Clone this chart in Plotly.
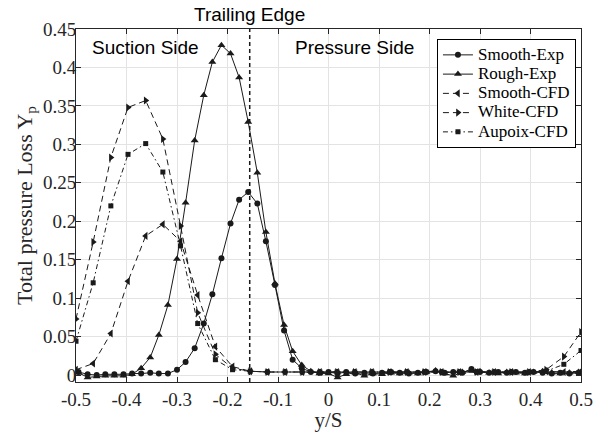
import plotly.graph_objects as go

# Wake traverse positions (y/S) for the measured profiles
exp_y_s = [
    -0.495, -0.477, -0.459, -0.442, -0.424, -0.406, -0.389, -0.371, -0.353, -0.336,
    -0.318, -0.300, -0.283, -0.265, -0.247, -0.230, -0.212, -0.194, -0.177, -0.159,
    -0.141, -0.124, -0.106, -0.088, -0.071, -0.053, -0.035, -0.018, 0.000, 0.018,
    0.035, 0.053, 0.071, 0.088, 0.106, 0.124, 0.141, 0.159, 0.177, 0.194,
    0.212, 0.230, 0.247, 0.265, 0.283, 0.300, 0.318, 0.336, 0.353, 0.371,
    0.389, 0.406, 0.424, 0.442, 0.459, 0.477, 0.495,
]

smooth_exp = [
    0.004, 0.001, 0.000, 0.001, 0.001, 0.001, 0.002, 0.002, 0.003, 0.002,
    0.002, 0.007, 0.017, 0.035, 0.067, 0.105, 0.152, 0.197, 0.228, 0.238,
    0.223, 0.174, 0.117, 0.058, 0.020, 0.009, 0.004, 0.003, 0.004, 0.002,
    0.004, 0.002, 0.003, 0.002, 0.003, 0.004, 0.003, 0.002, 0.003, 0.004,
    0.005, 0.003, 0.004, 0.003, 0.008, 0.004, 0.003, 0.004, 0.003, 0.004,
    0.003, 0.004, 0.003, 0.002, 0.003, 0.002, 0.003,
]

rough_exp = [
    0.003, -0.003, -0.002, -0.001, -0.001, -0.001, 0.001, 0.009, 0.023, 0.052,
    0.091, 0.151, 0.224, 0.305, 0.364, 0.407, 0.429, 0.418, 0.387, 0.329,
    0.263, 0.186, 0.119, 0.065, 0.031, 0.013, 0.005, 0.002, 0.002, -0.003,
    0.001, 0.003, -0.001, 0.002, 0.001, 0.003, 0.002, 0.003, 0.002, 0.004,
    0.006, 0.002, -0.001, 0.004, 0.006, 0.005, 0.003, 0.002, 0.004, 0.003,
    0.002, 0.004, 0.005, 0.003, 0.002, 0.003, 0.004,
]

# Pitchwise positions of the CFD wake profiles
cfd_y_s = [
    -0.500, -0.466, -0.431, -0.397, -0.362, -0.328, -0.293, -0.259, -0.224, -0.190,
    -0.155, -0.121, -0.086, -0.052, -0.017, 0.017, 0.052, 0.086, 0.121, 0.155,
    0.190, 0.224, 0.259, 0.293, 0.328, 0.362, 0.397, 0.431, 0.466, 0.500,
]

smooth_cfd = [
    0.007, 0.015, 0.054, 0.122, 0.181, 0.196, 0.174, 0.104, 0.037, 0.011,
    0.005, 0.004, 0.004, 0.004, 0.004, 0.004, 0.004, 0.004, 0.004, 0.004,
    0.004, 0.004, 0.004, 0.004, 0.004, 0.004, 0.004, 0.005, 0.004, 0.005,
]

white_cfd = [
    0.073, 0.173, 0.283, 0.348, 0.357, 0.307, 0.194, 0.081, 0.027, 0.009,
    0.005, 0.004, 0.004, 0.004, 0.004, 0.004, 0.004, 0.004, 0.004, 0.004,
    0.004, 0.004, 0.004, 0.004, 0.004, 0.004, 0.004, 0.007, 0.024, 0.056,
]

aupoix_cfd = [
    0.044, 0.120, 0.220, 0.287, 0.301, 0.264, 0.168, 0.067, 0.020, 0.007,
    0.005, 0.004, 0.004, 0.004, 0.004, 0.004, 0.004, 0.004, 0.004, 0.004,
    0.004, 0.004, 0.004, 0.004, 0.004, 0.004, 0.004, 0.005, 0.014, 0.032,
]

trailing_edge = -0.156

x_ticks = [-0.5, -0.4, -0.3, -0.2, -0.1, 0, 0.1, 0.2, 0.3, 0.4, 0.5]
x_tick_labels = ["-0.5", "-0.4", "-0.3", "-0.2", "-0.1", "0", "0.1", "0.2", "0.3", "0.4", "0.5"]
y_ticks = [0, 0.05, 0.1, 0.15, 0.2, 0.25, 0.3, 0.35, 0.4, 0.45]
y_tick_labels = ["0", "0.05", "0.1", "0.15", "0.2", "0.25", "0.3", "0.35", "0.4", "0.45"]

SERIF = "Liberation Serif, Times New Roman, serif"
SANS = "Liberation Sans, Arial, sans-serif"
INK = "#1a1a1a"

series = [
    ("Smooth-Exp", exp_y_s, smooth_exp, "solid", "circle", 6),
    ("Rough-Exp", exp_y_s, rough_exp, "solid", "triangle-up", 7),
    ("Smooth-CFD", cfd_y_s, smooth_cfd, "6px,4px", "triangle-left", 7),
    ("White-CFD", cfd_y_s, white_cfd, "6px,4px", "triangle-right", 7),
    ("Aupoix-CFD", cfd_y_s, aupoix_cfd, "5px,3px,1.5px,3px", "square", 5),
]

fig = go.Figure()
for name, xs, ys, dash, symbol, size in series:
    fig.add_trace(go.Scatter(
        x=xs, y=ys, mode="lines+markers",
        # compact legend rows: row height follows the legend font, the label uses a larger span
        name=f'<span style="font-size:17px">{name}</span>',
        line=dict(color=INK, width=1, dash=dash),
        marker=dict(symbol=symbol, size=size, color=INK),
    ))

fig.add_vline(x=trailing_edge, line=dict(color=INK, width=1.5, dash="4px,3px"))

fig.add_annotation(x=trailing_edge, y=1.042, xref="x", yref="paper", text="Trailing Edge",
                   showarrow=False, font=dict(family=SANS, size=19, color="#000"),
                   xanchor="center", yanchor="middle")
fig.add_annotation(x=-0.363, y=0.426, text="Suction Side", showarrow=False,
                   font=dict(family=SANS, size=19, color="#000"), xanchor="center", yanchor="middle")
fig.add_annotation(x=0.052, y=0.426, text="Pressure Side", showarrow=False,
                   font=dict(family=SANS, size=19, color="#000"), xanchor="center", yanchor="middle")

axis_common = dict(
    showline=True, linecolor="#262626", linewidth=1, mirror="ticks",
    ticks="inside", ticklen=5, tickcolor="#262626",
    showgrid=True, gridcolor="#e3e3e3", gridwidth=1, zeroline=False,
    tickfont=dict(family=SERIF, size=19, color="#262626"),
    automargin=False,
)

fig.update_xaxes(range=[-0.5, 0.5], tickvals=x_ticks, ticktext=x_tick_labels,
                 ticklabelstandoff=0,
                 title=dict(text="y/S", font=dict(family=SERIF, size=21, color="#262626"), standoff=5),
                 **axis_common)
fig.update_yaxes(range=[-0.009, 0.45], tickvals=y_ticks, ticktext=y_tick_labels,
                 ticklabelstandoff=-5,
                 title=dict(text="Total pressure Loss Y<sub>p</sub>",
                            font=dict(family=SERIF, size=22, color="#262626"), standoff=4),
                 **axis_common)

fig.update_layout(
    width=605, height=432,
    margin=dict(l=76, r=24, t=29, b=50),
    paper_bgcolor="white", plot_bgcolor="white",
    showlegend=True,
    legend=dict(x=0.99, y=0.971, xanchor="right", yanchor="top",
                bgcolor="white", bordercolor="#000", borderwidth=1,
                font=dict(family=SERIF, size=12.5, color="#000"),
                itemwidth=30, tracegroupgap=0),
)

fig.write_html("out.html")
